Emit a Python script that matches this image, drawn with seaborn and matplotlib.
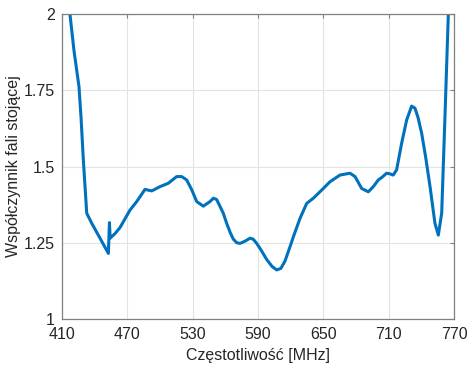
import matplotlib
matplotlib.use("Agg")
import matplotlib.pyplot as plt
import seaborn as sns
import pandas as pd

freq = [414, 417.3, 421, 425.6, 427.5, 429.6, 432.7, 437.3, 444.9, 452.6, 453.3, 453.6, 454.2,
        458.7, 463.3, 472.4, 478.6, 486.2, 492.4, 500, 507.6, 515.3, 519.9, 524.5,
        529, 533.7, 539.8, 545.9, 549, 552, 555, 558.1, 561.2, 564.3, 567.3, 570.5, 573.5, 578, 582.7,
        585.5, 588.8, 593, 598, 603, 607.2, 611, 614.8, 619.4, 623, 628.6, 634.7, 640.8, 650,
        656.1, 665.3, 674.5, 679.1, 685.2, 691.3, 695.9, 700.5, 704, 708.1, 711,
        714.2, 717.3, 721.9, 726.5, 731.1, 734.2, 737, 740.3, 744, 748, 752.5, 755.6, 758.7,
        761.7, 764.8, 767]
vswr = [2.12, 2.0, 1.88, 1.762, 1.66, 1.521, 1.347, 1.314, 1.265, 1.215, 1.29, 1.316, 1.265,
        1.28, 1.30, 1.357, 1.385, 1.425, 1.42, 1.434, 1.445, 1.467, 1.467, 1.456,
        1.425, 1.385, 1.37, 1.385, 1.396, 1.392, 1.37, 1.347, 1.314, 1.285, 1.262, 1.25, 1.248, 1.255, 1.265,
        1.262, 1.248, 1.225, 1.195, 1.172, 1.161, 1.166, 1.19, 1.237, 1.275, 1.33, 1.379, 1.396, 1.428,
        1.45, 1.472, 1.478, 1.467, 1.428, 1.417, 1.434, 1.456, 1.465, 1.478, 1.476,
        1.472, 1.489, 1.576, 1.652, 1.698, 1.691, 1.66, 1.609, 1.53, 1.434, 1.314, 1.275, 1.347,
        1.663, 2.0, 2.15]

xticks = [410, 470, 530, 590, 650, 710, 770]
yticks = [1, 1.25, 1.5, 1.75, 2]
ytick_labels = ["1", "1.25", "1.5", "1.75", "2"]

sns.set_style("white")
plt.rcParams['font.family'] = ['Liberation Sans', 'DejaVu Sans']

fig = plt.figure(figsize=(4.74, 3.74), dpi=100)
ax = fig.add_axes([0.1308, 0.147, 0.8270, 0.8156])

df = pd.DataFrame({"f": freq, "v": vswr})
sns.lineplot(data=df, x="f", y="v", ax=ax, color="#0072BD", linewidth=2.2,
             sort=False, estimator=None)
for ln in ax.get_lines():
    ln.set_solid_joinstyle("round")

ax.set_xlim(410, 770)
ax.set_ylim(1, 2)
ax.set_xticks(xticks)
ax.set_xticklabels([str(t) for t in xticks])
ax.set_yticks(yticks)
ax.set_yticklabels(ytick_labels)
ax.grid(True, color="#e3e3e3", linewidth=0.8)
ax.set_axisbelow(True)
for s in ax.spines.values():
    s.set_color("#808080")
    s.set_linewidth(0.9)
    s.set_visible(True)
ax.tick_params(direction="in", length=3, color="#808080", labelsize=11.5,
               labelcolor="#262626", top=True, right=True)
ax.tick_params(axis="x", pad=6)
ax.tick_params(axis="y", pad=5)
ax.set_xlabel("Częstotliwość [MHz]", fontsize=11.5, color="#262626", labelpad=4)
ax.set_ylabel("Współczynnik fali stojącej", fontsize=11.5, color="#262626", labelpad=2)

fig.savefig("out.png", dpi=100)
